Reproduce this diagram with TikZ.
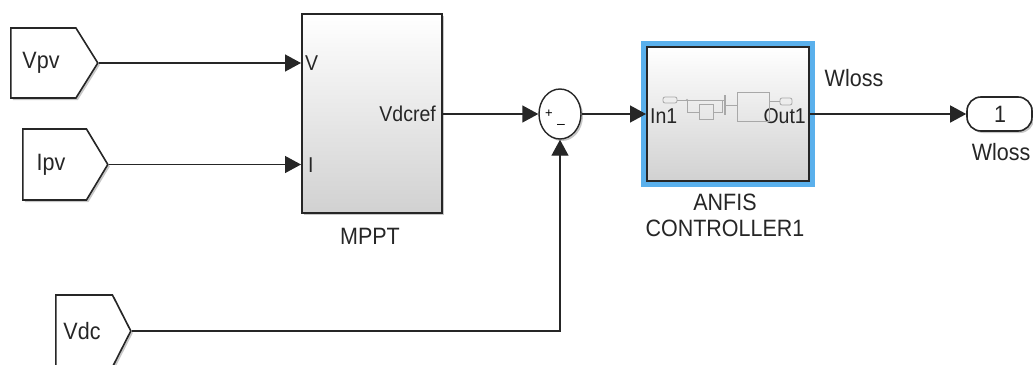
\documentclass[tikz,border=0pt]{standalone}
\usepackage{fontspec}
\setmainfont{Liberation Sans}
\usetikzlibrary{arrows.meta,shapes.symbols,shapes.geometric,shadows}

\definecolor{edge}{HTML}{262626}
\definecolor{selblue}{HTML}{5AB0EC}
\definecolor{sketch}{HTML}{A8A8A8}

% slightly condensed-looking, taller lettering
\newcommand\tallt[1]{\scalebox{1}[1.1]{#1}}

\tikzset{
  lbl/.style={font=\fontsize{21.5}{25}\selectfont, inner sep=0pt, text=edge},
  portlbl/.style={font=\fontsize{19.5}{23}\selectfont, inner sep=0pt, text=edge},
  wire/.style={draw=edge, line width=1.4pt, -{Triangle[length=16pt,width=17pt]}},
  softshadow/.style={drop shadow={shadow xshift=2pt, shadow yshift=-2pt, fill=black, opacity=0.22}},
  gototag/.style={signal, signal to=east, draw=edge, line width=1.6pt, fill=white,
    inner sep=0pt, softshadow},
  subsys/.style={rectangle, draw=edge, line width=2pt, inner sep=0pt,
    top color=white, middle color=white, bottom color=black!18, softshadow},
  sumblk/.style={ellipse, draw=edge, line width=1.4pt, fill=white, inner sep=0pt,
    minimum width=42pt, minimum height=50pt, softshadow},
  outblk/.style={rectangle, rounded corners=14pt, draw=edge, line width=1.6pt, fill=white,
    inner sep=0pt, minimum width=65pt, minimum height=34pt, softshadow},
  sketchline/.style={draw=sketch, line width=0.8pt}
}

\begin{document}
\begin{tikzpicture}[x=1pt, y=-1pt]
\useasboundingbox (0,0) rectangle (1033,364);

% source tags
\node[gototag, signal pointer angle=116, minimum width=87pt, minimum height=70pt, anchor=west] (vpv) at (10,63) {};
\node[lbl] (vpvtext) at (41,63) {\tallt{Vpv}};
\node[gototag, signal pointer angle=118, minimum width=85pt, minimum height=71pt, anchor=west] (ipv) at (22,164.5) {};
\node[lbl] (ipvtext) at (51,164.5) {\tallt{Ipv}};
\node[gototag, signal pointer angle=126, minimum width=75pt, minimum height=72pt, anchor=west] (vdc) at (55,331) {};
\node[lbl] (vdctext) at (82,331) {\tallt{Vdc}};

% MPPT subsystem
\node[subsys, minimum width=140pt, minimum height=199pt] (mppt) at (372,113.5) {};
\node[portlbl, anchor=west] (portv) at (305,63) {\tallt{V}};
\node[portlbl, anchor=west] (porti) at (308,165) {\tallt{I}};
\node[portlbl, anchor=east] (portvdcref) at (436,114) {\tallt{Vdcref}};
\node[lbl] (mpptname) at (370,236) {\tallt{MPPT}};

% summing junction
\node[sumblk] (sum) at (560,114) {};
\node[font=\fontsize{13}{14}\selectfont, inner sep=0pt] (plus) at (549,114) {+};
\node[font=\fontsize{14}{14}\selectfont, inner sep=0pt] (minus) at (561,126) {–};

% ANFIS subsystem with selection frame
\node[subsys, minimum width=162pt, minimum height=134pt,
      preaction={draw=selblue, line width=12pt}] (anfis) at (728,114) {};
\node[portlbl, anchor=west] (portin) at (650,116) {\tallt{In1}};
\node[portlbl, anchor=east] (portout) at (806,116) {\tallt{Out1}};
% miniature of the inner model
\draw[sketchline, rounded corners=2pt] (663,97) rectangle (677,103);
\draw[sketchline] (677,100) -- (725,100);
\fill[sketch] (687,100) circle (1.2pt);
\draw[sketchline] (687,100) -- (687,112) -- (699,112);
\draw[sketchline] (699,104) rectangle (713,119);
\draw[sketchline] (713,112) -- (722,112) -- (722,100);
\draw[sketchline, line width=1.2pt] (725,95) -- (725,115);
\draw[sketchline] (725,105) -- (737,105);
\draw[sketchline] (737,92) rectangle (769,121);
\draw[sketchline] (769,101) -- (780,101);
\draw[sketchline, rounded corners=2pt] (780,98) rectangle (792,105);
\node[lbl, align=center] (anfisname) at (725,215) {\tallt{ANFIS}\\[1pt]\tallt{CONTROLLER1}};

% output port
\node[outblk] (wout) at (999.5,114) {};
\node[lbl] (wouttext) at (1000,114) {\tallt{1}};
\node[lbl] (woutname) at (1001,152) {\tallt{Wloss}};
\node[lbl] (sigwloss) at (854,78) {\tallt{Wloss}};

% signal lines
\draw[wire] (vpv.east) -- (mppt.west |- vpv.east);
\draw[wire] (ipv.east) -- (mppt.west |- ipv.east);
\draw[wire] (mppt.east |- sum.west) -- (sum.west);
\draw[wire] (sum.east) -- (anfis.west);
\draw[wire] (anfis.east) -- (wout.west);
\draw[wire] (vdc.east) -| (sum.south);
\end{tikzpicture}
\end{document}
